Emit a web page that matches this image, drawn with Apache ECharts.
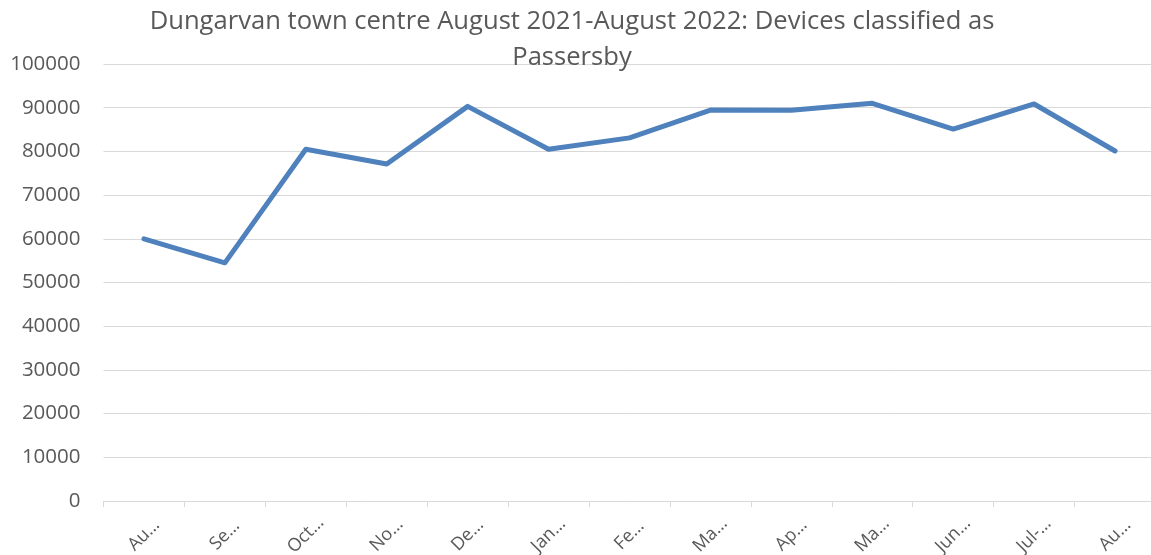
<!DOCTYPE html>
<html><head><meta charset="utf-8">
<script src="https://cdn.jsdelivr.net/npm/echarts@6/dist/echarts.min.js"></script>
<style>html,body{margin:0;padding:0;background:#fff}#c{width:1151px;height:555px}</style>
</head><body><div id="c"></div>
<script>
const categories = ["Aug-21","Sep-21","Oct-21","Nov-21","Dec-21","Jan-22","Feb-22","Mar-22","Apr-22","May-22","Jun-22","Jul-22","Aug-22"];
const tickLabels = ["Au…","Se…","Oct…","No…","De…","Jan…","Fe…","Ma…","Ap…","Ma…","Jun…","Jul-…","Au…"];
const passersby = [60000,54500,80500,77100,90300,80500,83100,89450,89400,91000,85100,90850,80100];
const yTicks = [0,10000,20000,30000,40000,50000,60000,70000,80000,90000,100000];
const titleText = "Dungarvan town centre August 2021-August 2022: Devices classified as\nPassersby";

const FONT = "'Open Sans', sans-serif";
const chart = echarts.init(document.getElementById('c'));
chart.setOption({
  animation:false,
  title:{text:titleText,left:567,textAlign:'center',top:-1,
    textStyle:{fontFamily:FONT,fontSize:25.6,fontWeight:'normal',color:'#595959',lineHeight:36}},
  grid:{left:103.5,width:1052,top:64,height:437,containLabel:false,outerBoundsMode:'none'},
  xAxis:{type:'category',data:categories,boundaryGap:true,
    axisLine:{lineStyle:{color:'#d9d9d9',width:1}},
    axisTick:{show:true,length:6,lineStyle:{color:'#d9d9d9'}},
    axisLabel:{rotate:45,margin:34,align:'center',verticalAlign:'middle',
      fontFamily:FONT,fontSize:18,color:'#595959',
      formatter:(v,i)=>tickLabels[i]}},
  yAxis:{type:'value',min:0,max:100000,interval:10000,
    axisLine:{show:false},axisTick:{show:false},
    splitLine:{lineStyle:{color:'#d9d9d9',width:1}},
    axisLabel:{margin:23,fontFamily:FONT,fontSize:20.5,color:'#595959',
      formatter:v=>yTicks.includes(v)?String(v):''}},
  series:[{type:'line',data:passersby,symbol:'none',
    lineStyle:{color:'#4f81bd',width:5,cap:'round',join:'round'},z:3}]
});
</script></body></html>
